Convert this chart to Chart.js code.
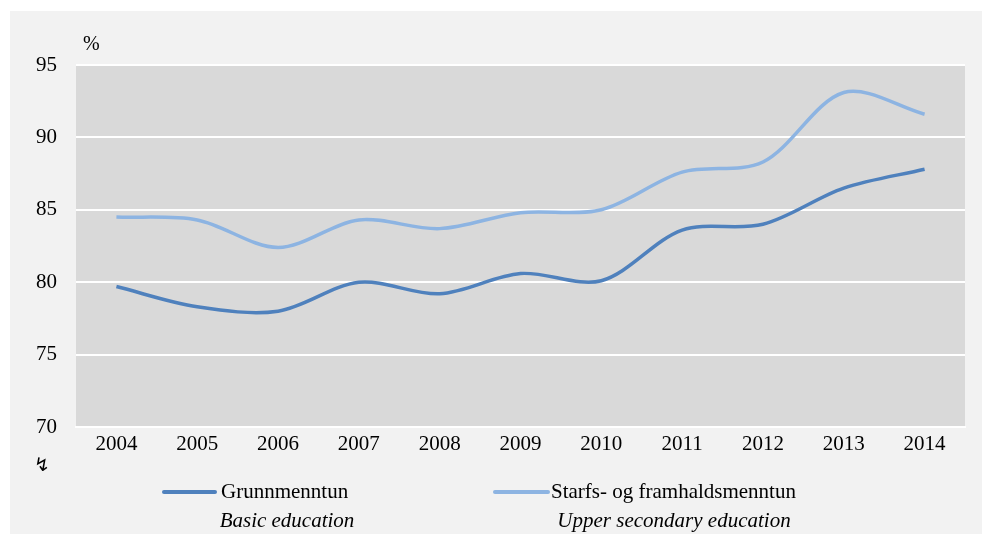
<!DOCTYPE html>
<html>
<head>
<meta charset="utf-8">
<script src="https://cdn.jsdelivr.net/npm/chart.js@4.4.1/dist/chart.umd.min.js"></script>
<style>
  html, body { margin: 0; padding: 0; background: #ffffff; }
  #wrap { position: relative; width: 982px; height: 534px; }
</style>
</head>
<body>
<div id="wrap"><canvas id="chart" width="982" height="534"></canvas></div>
<script>
// data
var years = ["2004", "2005", "2006", "2007", "2008", "2009", "2010", "2011", "2012", "2013", "2014"];
var basicEducation = [79.7, 78.3, 78.0, 80.0, 79.2, 80.6, 80.1, 83.6, 84.0, 86.5, 87.8];
var upperSecondary = [84.5, 84.3, 82.4, 84.3, 83.7, 84.8, 85.0, 87.6, 88.3, 93.1, 91.6];
var seriesLabels = ["Grunnmenntun", "Starfs- og framhaldsmenntun"];
var seriesSubLabels = ["Basic education", "Upper secondary education"];
var yTicks = [70, 75, 80, 85, 90, 95];

var serif = "'Liberation Serif', 'Times New Roman', serif";

// panel + plot background
var backgroundPlugin = {
  id: "backgroundPlugin",
  beforeDraw: function (chart) {
    var ctx = chart.ctx;
    var a = chart.chartArea;
    ctx.save();
    ctx.fillStyle = "#ffffff";
    ctx.fillRect(0, 0, chart.width, chart.height);
    ctx.fillStyle = "#f2f2f2";
    ctx.fillRect(10, 11, chart.width - 10, chart.height - 11);
    ctx.fillStyle = "#d9d9d9";
    ctx.fillRect(a.left, a.top, a.right - a.left, a.bottom - a.top);
    ctx.restore();
  }
};

// "%" unit, the small arrow glyph and the two-line legend
var annotationPlugin = {
  id: "annotationPlugin",
  afterDraw: function (chart) {
    var ctx = chart.ctx;
    var a = chart.chartArea;
    ctx.save();
    ctx.fillStyle = "#000000";
    ctx.textBaseline = "middle";
    ctx.textAlign = "left";
    ctx.font = "20px " + serif;
    ctx.fillText("%", a.left + 7, 45);

    ctx.font = "19px 'DejaVu Sans'";
    ctx.fillText("\u21AF", 34, 466);

    var items = [
      { x1: 164, x2: 215, tx: 221, sub: 287 },
      { x1: 495, x2: 548, tx: 551, sub: 674 }
    ];
    chart.data.datasets.forEach(function (ds, i) {
      var it = items[i];
      ctx.strokeStyle = ds.borderColor;
      ctx.lineWidth = 4;
      ctx.lineCap = "round";
      ctx.beginPath();
      ctx.moveTo(it.x1, 492);
      ctx.lineTo(it.x2, 492);
      ctx.stroke();
      ctx.textAlign = "left";
      ctx.font = "21px " + serif;
      ctx.fillText(ds.label, it.tx, 492);
      ctx.textAlign = "center";
      ctx.font = "italic 21px " + serif;
      ctx.fillText(seriesSubLabels[i], it.sub, 521);
    });
    ctx.restore();
  }
};

new Chart(document.getElementById("chart"), {
  type: "line",
  data: {
    labels: years,
    datasets: [
      {
        label: seriesLabels[0],
        data: basicEducation,
        borderColor: "#4f81bd",
        borderWidth: 3.5,
        pointRadius: 0,
        tension: 0.32,
        fill: false
      },
      {
        label: seriesLabels[1],
        data: upperSecondary,
        borderColor: "#8db4e2",
        borderWidth: 3.5,
        pointRadius: 0,
        tension: 0.32,
        fill: false
      }
    ]
  },
  options: {
    responsive: false,
    animation: false,
    devicePixelRatio: 1,
    layout: { padding: { left: 10, right: 17, top: 65, bottom: 0 } },
    plugins: {
      legend: { display: false },
      tooltip: { enabled: false }
    },
    scales: {
      x: {
        offset: true,
        grid: { display: false, drawTicks: false },
        border: { display: true, color: "#ffffff", width: 2 },
        ticks: { color: "#000000", padding: 5, font: { family: serif, size: 21 }, maxRotation: 0 },
        afterFit: function (s) { s.height = 107; }
      },
      y: {
        min: 70,
        max: 95,
        afterBuildTicks: function (s) {
          s.ticks = yTicks.map(function (v) { return { value: v }; });
        },
        grid: { color: "#ffffff", lineWidth: 2, drawTicks: false },
        border: { display: false },
        ticks: { color: "#000000", padding: 19, font: { family: serif, size: 21 } },
        afterFit: function (s) { s.width = 66; }
      }
    }
  },
  plugins: [backgroundPlugin, annotationPlugin]
});
</script>
</body>
</html>
